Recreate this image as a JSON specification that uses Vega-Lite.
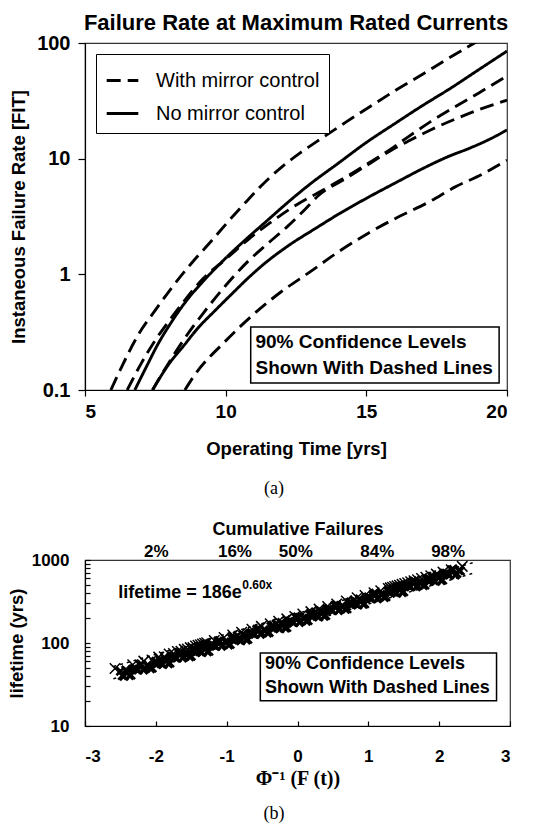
{
"$schema": "https://vega.github.io/schema/vega-lite/v6.json",
"background": "white",
"padding": {"left": 6, "top": 11, "right": 5, "bottom": 0},
"spacing": 10,
"config": {
  "font": "Liberation Sans",
  "view": {"stroke": "#333", "strokeWidth": 1.2},
  "axis": {"grid": false, "labelFont": "Liberation Sans", "titleFont": "Liberation Sans", "labelFontWeight": "bold", "titleFontWeight": "bold", "labelColor": "black", "titleColor": "black", "domainColor": "black", "tickColor": "black", "tickWidth": 1.2, "domainWidth": 1.2}
},
"datasets": {
  "curves": [
    {"curve":"D1","s":"With mirror control","t":5.92,"fit":0.1},
    {"curve":"D1","s":"With mirror control","t":6.3,"fit":0.158},
    {"curve":"D1","s":"With mirror control","t":6.9,"fit":0.302},
    {"curve":"D1","s":"With mirror control","t":7.5,"fit":0.49},
    {"curve":"D1","s":"With mirror control","t":8.1,"fit":0.776},
    {"curve":"D1","s":"With mirror control","t":8.8,"fit":1.26},
    {"curve":"D1","s":"With mirror control","t":9.5,"fit":1.95},
    {"curve":"D1","s":"With mirror control","t":10.1,"fit":2.88},
    {"curve":"D1","s":"With mirror control","t":10.7,"fit":4.17},
    {"curve":"D1","s":"With mirror control","t":11.2,"fit":5.62},
    {"curve":"D1","s":"With mirror control","t":12.0,"fit":8.5},
    {"curve":"D1","s":"With mirror control","t":12.6,"fit":11.0},
    {"curve":"D1","s":"With mirror control","t":13.5,"fit":15.5},
    {"curve":"D1","s":"With mirror control","t":14.3,"fit":20.9},
    {"curve":"D1","s":"With mirror control","t":15.3,"fit":30.0},
    {"curve":"D1","s":"With mirror control","t":16.1,"fit":39.8},
    {"curve":"D1","s":"With mirror control","t":17.0,"fit":53.7},
    {"curve":"D1","s":"With mirror control","t":17.8,"fit":70.8},
    {"curve":"D1","s":"With mirror control","t":18.6,"fit":92.3},
    {"curve":"D1","s":"With mirror control","t":19.3,"fit":116},
    {"curve":"S1","s":"No mirror control","t":6.77,"fit":0.1},
    {"curve":"S1","s":"No mirror control","t":7.2,"fit":0.162},
    {"curve":"S1","s":"No mirror control","t":7.6,"fit":0.251},
    {"curve":"S1","s":"No mirror control","t":8.0,"fit":0.363},
    {"curve":"S1","s":"No mirror control","t":8.6,"fit":0.589},
    {"curve":"S1","s":"No mirror control","t":9.2,"fit":0.871},
    {"curve":"S1","s":"No mirror control","t":10.0,"fit":1.38},
    {"curve":"S1","s":"No mirror control","t":10.8,"fit":2.09},
    {"curve":"S1","s":"No mirror control","t":11.5,"fit":2.95},
    {"curve":"S1","s":"No mirror control","t":12.2,"fit":4.17},
    {"curve":"S1","s":"No mirror control","t":13.0,"fit":6.03},
    {"curve":"S1","s":"No mirror control","t":14.0,"fit":9.12},
    {"curve":"S1","s":"No mirror control","t":15.0,"fit":13.8},
    {"curve":"S1","s":"No mirror control","t":16.0,"fit":20.0},
    {"curve":"S1","s":"No mirror control","t":17.0,"fit":28.8},
    {"curve":"S1","s":"No mirror control","t":18.0,"fit":40.7},
    {"curve":"S1","s":"No mirror control","t":19.0,"fit":58.9},
    {"curve":"S1","s":"No mirror control","t":20.0,"fit":85.1},
    {"curve":"D2","s":"With mirror control","t":6.5,"fit":0.1},
    {"curve":"D2","s":"With mirror control","t":7.0,"fit":0.17},
    {"curve":"D2","s":"With mirror control","t":7.5,"fit":0.27},
    {"curve":"D2","s":"With mirror control","t":8.0,"fit":0.4},
    {"curve":"D2","s":"With mirror control","t":8.6,"fit":0.62},
    {"curve":"D2","s":"With mirror control","t":9.2,"fit":0.92},
    {"curve":"D2","s":"With mirror control","t":10.0,"fit":1.35},
    {"curve":"D2","s":"With mirror control","t":10.8,"fit":2.0},
    {"curve":"D2","s":"With mirror control","t":11.5,"fit":2.7},
    {"curve":"D2","s":"With mirror control","t":12.0,"fit":3.3},
    {"curve":"D2","s":"With mirror control","t":12.6,"fit":4.1},
    {"curve":"D2","s":"With mirror control","t":13.3,"fit":5.1},
    {"curve":"D2","s":"With mirror control","t":14.3,"fit":7.0},
    {"curve":"D2","s":"With mirror control","t":15.0,"fit":8.9},
    {"curve":"D2","s":"With mirror control","t":15.8,"fit":11.8},
    {"curve":"D2","s":"With mirror control","t":16.5,"fit":15.5},
    {"curve":"D2","s":"With mirror control","t":17.3,"fit":21.0},
    {"curve":"D2","s":"With mirror control","t":18.2,"fit":28.5},
    {"curve":"D2","s":"With mirror control","t":19.0,"fit":37},
    {"curve":"D2","s":"With mirror control","t":20.0,"fit":52},
    {"curve":"D3","s":"With mirror control","t":7.4,"fit":0.1},
    {"curve":"D3","s":"With mirror control","t":7.9,"fit":0.16},
    {"curve":"D3","s":"With mirror control","t":8.5,"fit":0.27},
    {"curve":"D3","s":"With mirror control","t":9.2,"fit":0.46},
    {"curve":"D3","s":"With mirror control","t":10.0,"fit":0.8},
    {"curve":"D3","s":"With mirror control","t":10.8,"fit":1.3},
    {"curve":"D3","s":"With mirror control","t":11.5,"fit":1.85},
    {"curve":"D3","s":"With mirror control","t":12.2,"fit":2.6},
    {"curve":"D3","s":"With mirror control","t":12.8,"fit":3.6},
    {"curve":"D3","s":"With mirror control","t":13.3,"fit":4.8},
    {"curve":"D3","s":"With mirror control","t":14.3,"fit":6.8},
    {"curve":"D3","s":"With mirror control","t":15.0,"fit":8.7},
    {"curve":"D3","s":"With mirror control","t":15.8,"fit":11.5},
    {"curve":"D3","s":"With mirror control","t":16.5,"fit":14.2},
    {"curve":"D3","s":"With mirror control","t":17.3,"fit":17.8},
    {"curve":"D3","s":"With mirror control","t":18.2,"fit":22.2},
    {"curve":"D3","s":"With mirror control","t":19.0,"fit":26.5},
    {"curve":"D3","s":"With mirror control","t":20.0,"fit":32},
    {"curve":"S2","s":"No mirror control","t":7.4,"fit":0.1},
    {"curve":"S2","s":"No mirror control","t":8.0,"fit":0.17},
    {"curve":"S2","s":"No mirror control","t":8.5,"fit":0.24},
    {"curve":"S2","s":"No mirror control","t":9.0,"fit":0.34},
    {"curve":"S2","s":"No mirror control","t":9.6,"fit":0.48},
    {"curve":"S2","s":"No mirror control","t":10.2,"fit":0.67},
    {"curve":"S2","s":"No mirror control","t":10.8,"fit":0.93},
    {"curve":"S2","s":"No mirror control","t":11.4,"fit":1.25},
    {"curve":"S2","s":"No mirror control","t":12.2,"fit":1.75},
    {"curve":"S2","s":"No mirror control","t":13.2,"fit":2.5},
    {"curve":"S2","s":"No mirror control","t":14.0,"fit":3.3},
    {"curve":"S2","s":"No mirror control","t":14.9,"fit":4.4},
    {"curve":"S2","s":"No mirror control","t":16.1,"fit":6.3},
    {"curve":"S2","s":"No mirror control","t":17.0,"fit":8.2},
    {"curve":"S2","s":"No mirror control","t":17.9,"fit":10.4},
    {"curve":"S2","s":"No mirror control","t":18.7,"fit":12.4},
    {"curve":"S2","s":"No mirror control","t":19.4,"fit":14.8},
    {"curve":"S2","s":"No mirror control","t":20.0,"fit":17.7},
    {"curve":"D4","s":"With mirror control","t":8.55,"fit":0.1},
    {"curve":"D4","s":"With mirror control","t":8.9,"fit":0.135},
    {"curve":"D4","s":"With mirror control","t":9.96,"fit":0.26},
    {"curve":"D4","s":"With mirror control","t":11.03,"fit":0.46},
    {"curve":"D4","s":"With mirror control","t":11.95,"fit":0.7},
    {"curve":"D4","s":"With mirror control","t":13.0,"fit":1.05},
    {"curve":"D4","s":"With mirror control","t":14.0,"fit":1.56},
    {"curve":"D4","s":"With mirror control","t":15.07,"fit":2.27},
    {"curve":"D4","s":"With mirror control","t":16.2,"fit":3.19},
    {"curve":"D4","s":"With mirror control","t":17.16,"fit":4.14},
    {"curve":"D4","s":"With mirror control","t":18.16,"fit":5.7},
    {"curve":"D4","s":"With mirror control","t":19.1,"fit":7.3},
    {"curve":"D4","s":"With mirror control","t":20.0,"fit":9.7}
  ],
  "pts": [
    {"z":-2.576,"life":49.3},{"z":-2.326,"life":54.6},{"z":-2.17,"life":60.5},{"z":-2.054,"life":62.5},{"z":-1.96,"life":67.6},{"z":-1.881,"life":68.4},{"z":-1.812,"life":73.8},{"z":-1.751,"life":74.6},{"z":-1.695,"life":79.1},{"z":-1.645,"life":79.6},{"z":-1.598,"life":83.8},{"z":-1.555,"life":84.7},{"z":-1.514,"life":87.9},{"z":-1.476,"life":87.9},{"z":-1.44,"life":91.8},{"z":-1.405,"life":93.8},{"z":-1.372,"life":95.5},{"z":-1.341,"life":97.3},{"z":-1.311,"life":99.1},{"z":-1.282,"life":100.7},{"z":-1.175,"life":107.2},{"z":-1.036,"life":116.4},{"z":-0.915,"life":125.0},{"z":-0.789,"life":134.6},{"z":-0.643,"life":146.6},{"z":-0.51,"life":158.5},{"z":-0.385,"life":170.6},{"z":-0.266,"life":182.8},{"z":-0.151,"life":195.4},{"z":-0.038,"life":208.9},{"z":0.075,"life":223.4},{"z":0.189,"life":238.8},{"z":0.305,"life":255.9},{"z":0.426,"life":274.8},{"z":0.553,"life":295.8},{"z":0.69,"life":320.6},{"z":0.842,"life":350.8},{"z":0.954,"life":374.1},{"z":1.08,"life":402.7},{"z":1.175,"life":426.6},{"z":1.282,"life":453.9},{"z":1.311,"life":461.3},{"z":1.341,"life":469.9},{"z":1.372,"life":478.6},{"z":1.405,"life":487.5},{"z":1.44,"life":497.7},{"z":1.476,"life":508.2},{"z":1.514,"life":520.0},{"z":1.555,"life":533.3},{"z":1.598,"life":545.8},{"z":1.645,"life":561.0},{"z":1.695,"life":578.1},{"z":1.751,"life":598.4},{"z":1.812,"life":619.4},{"z":1.881,"life":645.7},{"z":1.96,"life":676.1},{"z":2.054,"life":714.5},{"z":2.17,"life":763.8},{"z":2.326,"life":837.5}
  ],
  "band": [
    {"z":-2.5,"life":45.7},{"z":-2.45,"life":39.6},{"z":-2.4,"life":45.3},{"z":-2.35,"life":41.1},{"z":-2.3,"life":49.8},{"z":-2.25,"life":47.3},{"z":-2.2,"life":55.3},{"z":-2.15,"life":49.1},{"z":-2.1,"life":53.0},{"z":-2.05,"life":49.8},{"z":-2.0,"life":60.3},{"z":-1.95,"life":63.5},{"z":-1.9,"life":55.1},{"z":-1.85,"life":63.0},{"z":-1.8,"life":57.1},{"z":-1.75,"life":69.2},{"z":-1.7,"life":65.8},{"z":-1.65,"life":76.9},{"z":-1.6,"life":68.2},{"z":-1.55,"life":73.6},{"z":-1.5,"life":69.2},{"z":-1.45,"life":83.8},{"z":-1.4,"life":88.3},{"z":-1.35,"life":76.6},{"z":-1.3,"life":87.5},{"z":-1.25,"life":79.4},{"z":-1.2,"life":96.2},{"z":-1.15,"life":91.4},{"z":-1.1,"life":106.9},{"z":-1.05,"life":94.8},{"z":-1.0,"life":102.3},{"z":-0.95,"life":96.2},{"z":-0.9,"life":116.4},{"z":-0.85,"life":122.7},{"z":-0.8,"life":106.4},{"z":-0.75,"life":121.6},{"z":-0.7,"life":110.4},{"z":-0.65,"life":133.7},{"z":-0.6,"life":127.1},{"z":-0.55,"life":148.6},{"z":-0.5,"life":131.8},{"z":-0.45,"life":142.2},{"z":-0.4,"life":133.7},{"z":-0.35,"life":161.8},{"z":-0.3,"life":170.6},{"z":-0.25,"life":147.9},{"z":-0.2,"life":169.0},{"z":-0.15,"life":153.5},{"z":-0.1,"life":185.8},{"z":-0.05,"life":176.6},{"z":0.0,"life":206.5},{"z":0.05,"life":183.2},{"z":0.1,"life":197.7},{"z":0.15,"life":185.8},{"z":0.2,"life":224.9},{"z":0.25,"life":237.1},{"z":0.3,"life":205.6},{"z":0.35,"life":235.0},{"z":0.4,"life":213.3},{"z":0.45,"life":258.2},{"z":0.5,"life":245.5},{"z":0.55,"life":287.1},{"z":0.6,"life":254.7},{"z":0.65,"life":274.8},{"z":0.7,"life":258.2},{"z":0.75,"life":312.6},{"z":0.8,"life":329.6},{"z":0.85,"life":285.8},{"z":0.9,"life":326.6},{"z":0.95,"life":296.5},{"z":1.0,"life":358.9},{"z":1.05,"life":341.2},{"z":1.1,"life":399.0},{"z":1.15,"life":354.0},{"z":1.2,"life":382.0},{"z":1.25,"life":358.9},{"z":1.3,"life":434.5},{"z":1.35,"life":458.1},{"z":1.4,"life":397.2},{"z":1.45,"life":453.9},{"z":1.5,"life":412.1},{"z":1.55,"life":498.9},{"z":1.6,"life":474.2},{"z":1.65,"life":554.6},{"z":1.7,"life":492.0},{"z":1.75,"life":530.9},{"z":1.8,"life":498.9},{"z":1.85,"life":603.9},{"z":1.9,"life":636.8},{"z":1.95,"life":552.1},{"z":2.0,"life":631.0},{"z":2.05,"life":572.8},{"z":2.1,"life":693.4},{"z":2.15,"life":659.2},{"z":2.2,"life":770.9},{"z":2.25,"life":683.9},{"z":2.3,"life":738.0},
    {"z":-2.475,"life":40.4},{"z":-2.425,"life":47.3},{"z":-2.375,"life":40.5},{"z":-2.325,"life":48.5},{"z":-2.275,"life":47.7},{"z":-2.225,"life":54.5},{"z":-2.175,"life":47.3},{"z":-2.125,"life":53.4},{"z":-2.075,"life":49.0},{"z":-2.025,"life":58.7},{"z":-1.975,"life":56.4},{"z":-1.925,"life":56.2},{"z":-1.875,"life":65.7},{"z":-1.825,"life":56.3},{"z":-1.775,"life":67.4},{"z":-1.725,"life":66.3},{"z":-1.675,"life":75.8},{"z":-1.625,"life":65.7},{"z":-1.575,"life":74.2},{"z":-1.525,"life":68.2},{"z":-1.475,"life":81.6},{"z":-1.425,"life":78.4},{"z":-1.375,"life":78.1},{"z":-1.325,"life":91.3},{"z":-1.275,"life":78.3},{"z":-1.225,"life":93.7},{"z":-1.175,"life":92.2},{"z":-1.125,"life":105.3},{"z":-1.075,"life":91.3},{"z":-1.025,"life":103.2},{"z":-0.975,"life":94.7},{"z":-0.925,"life":113.4},{"z":-0.875,"life":109.0},{"z":-0.825,"life":108.5},{"z":-0.775,"life":126.9},{"z":-0.725,"life":108.8},{"z":-0.675,"life":130.2},{"z":-0.625,"life":128.1},{"z":-0.575,"life":146.4},{"z":-0.525,"life":126.9},{"z":-0.475,"life":143.4},{"z":-0.425,"life":131.7},{"z":-0.375,"life":157.6},{"z":-0.325,"life":151.6},{"z":-0.275,"life":150.8},{"z":-0.225,"life":176.4},{"z":-0.175,"life":151.2},{"z":-0.125,"life":180.9},{"z":-0.075,"life":178.1},{"z":-0.025,"life":203.5},{"z":0.025,"life":176.4},{"z":0.075,"life":199.3},{"z":0.125,"life":183.0},{"z":0.175,"life":219.0},{"z":0.225,"life":210.6},{"z":0.275,"life":209.6},{"z":0.325,"life":245.2},{"z":0.375,"life":210.1},{"z":0.425,"life":251.5},{"z":0.475,"life":247.5},{"z":0.525,"life":282.8},{"z":0.575,"life":245.2},{"z":0.625,"life":277.0},{"z":0.675,"life":254.4},{"z":0.725,"life":304.5},{"z":0.775,"life":292.8},{"z":0.825,"life":291.5},{"z":0.875,"life":340.8},{"z":0.925,"life":292.2},{"z":0.975,"life":349.5},{"z":1.025,"life":343.9},{"z":1.075,"life":393.0},{"z":1.125,"life":340.8},{"z":1.175,"life":385.0},{"z":1.225,"life":353.6},{"z":1.275,"life":423.2},{"z":1.325,"life":407.0},{"z":1.375,"life":405.1},{"z":1.425,"life":473.8},{"z":1.475,"life":406.0},{"z":1.525,"life":486.0},{"z":1.575,"life":478.1},{"z":1.625,"life":546.5},{"z":1.675,"life":473.8},{"z":1.725,"life":535.3},{"z":1.775,"life":491.6},{"z":1.825,"life":588.3},{"z":1.875,"life":565.5},{"z":1.925,"life":562.9},{"z":1.975,"life":658.3},{"z":2.025,"life":564.2},{"z":2.075,"life":675.2},{"z":2.125,"life":664.4},{"z":2.175,"life":759.5},{"z":2.225,"life":658.3},{"z":2.275,"life":743.9}
  ]
},
"vconcat": [
  {
    "width": 422, "height": 347,
    "title": {"text": "Failure Rate at Maximum Rated Currents", "fontSize": 22, "fontWeight": "bold", "font": "Liberation Sans", "color": "black", "offset": -2, "anchor": "middle"},
    "encoding": {
      "x": {"field": "t", "type": "quantitative", "title": "Operating Time [yrs]", "scale": {"domain": [5, 20], "nice": false, "zero": false},
            "axis": {"values": [5, 10, 15, 20], "labelFontSize": 19, "titleFontSize": 18.5, "tickSize": 6, "labelPadding": 6, "titlePadding": 18}},
      "y": {"field": "fit", "type": "quantitative", "title": "Instaneous Failure Rate [FIT]", "scale": {"type": "log", "domain": [0.1, 100], "nice": false},
            "axis": {"values": [0.1, 1, 10, 100], "format": "~g", "labelFontSize": 20, "titleFontSize": 18.5, "tickSize": 7, "labelPadding": 8, "titlePadding": 8}}
    },
    "layer": [
      {
        "data": {"name": "curves"},
        "mark": {"type": "line", "color": "black", "strokeWidth": 2.9, "clip": true, "interpolate": "monotone"},
        "encoding": {
          "detail": {"field": "curve"},
          "strokeDash": {"field": "s", "type": "nominal",
            "scale": {"domain": ["With mirror control", "No mirror control"], "range": [[14, 7], [1, 0]]},
            "legend": {"title": null, "orient": "top-left", "offset": 11, "strokeColor": "black", "fillColor": "white", "padding": 9, "labelFontSize": 20, "labelFont": "Liberation Sans", "labelFontWeight": "normal", "labelColor": "black", "labelLimit": 400, "symbolType": "stroke", "symbolSize": 1000, "symbolStrokeWidth": 3, "symbolStrokeColor": "black", "rowPadding": 5, "labelOffset": 16}}
        }
      },
      {
        "data": {"values": [{"t": 10.89, "t2": 19.72, "fit": 0.351, "fit2": 0.115}]},
        "mark": {"type": "rect", "fill": "white", "stroke": "black", "strokeWidth": 1.5},
        "encoding": {"x2": {"field": "t2"}, "y2": {"field": "fit2"}}
      },
      {
        "data": {"values": [{"t": 11.06, "fit": 0.26, "label": "90% Confidence Levels"}, {"t": 11.06, "fit": 0.155, "label": "Shown With Dashed Lines"}]},
        "mark": {"type": "text", "align": "left", "baseline": "middle", "font": "Liberation Sans", "fontWeight": "bold", "fontSize": 19, "color": "black"},
        "encoding": {"text": {"field": "label"}}
      }
    ]
  },
  {
    "width": 378, "height": 40,
    "view": {"stroke": null},
    "data": {"values": [{"c": "(a)"}]},
    "mark": {"type": "text", "font": "Liberation Serif", "fontSize": 18, "color": "black", "baseline": "middle"},
    "encoding": {"text": {"field": "c"}}
  },
  {
    "width": 425, "height": 166,
    "encoding": {
      "x": {"field": "z", "type": "quantitative", "title": "Φ⁻¹ (F (t))", "scale": {"domain": [-3, 3], "nice": false, "zero": false}, "axis": null},
      "y": {"field": "life", "type": "quantitative", "title": "lifetime (yrs)", "scale": {"type": "log", "domain": [10, 1000], "nice": false},
            "axis": {"values": [10, 20, 30, 40, 50, 60, 70, 80, 90, 100, 200, 300, 400, 500, 600, 700, 800, 900, 1000],
                     "labelExpr": "(datum.value == 10 || datum.value == 100 || datum.value == 1000) ? format(datum.value, 'd') : ''",
                     "labelFontSize": 17, "titleFontSize": 18.5, "tickSize": -5, "labelPadding": 21, "titlePadding": 5}}
    },
    "resolve": {"axis": {"x": "independent"}},
    "layer": [
      {
        "data": {"values": [{"z": -2.6, "life": 52, "b": "up"}, {"z": 2.5, "life": 940, "b": "up"}, {"z": -2.6, "life": 37, "b": "lo"}, {"z": 2.5, "life": 700, "b": "lo"}]},
        "mark": {"type": "line", "color": "black", "strokeWidth": 1.5, "strokeDash": [3, 4]},
        "encoding": {"detail": {"field": "b"}}
      },
      {
        "data": {"name": "band"},
        "mark": {"type": "point", "shape": "M-1,-1L1,1M1,-1L-1,1", "filled": false, "color": "black", "strokeWidth": 2.6, "size": 64, "opacity": 1},
        "encoding": {
          "x": {"field": "z", "type": "quantitative", "title": "Φ⁻¹ (F (t))",
                "axis": {"orient": "bottom", "values": [-3, -2, -1, 0, 1, 2, 3], "labelExpr": "datum.value < 0 ? '-' + abs(datum.value) : '' + datum.value", "titleFont": "Liberation Serif", "titleFontSize": 20, "labelFontSize": 17, "tickSize": -5, "labelPadding": 27, "titlePadding": 4}}
        }
      },
      {
        "data": {"name": "pts"},
        "mark": {"type": "point", "shape": "M-1,-1L1,1M1,-1L-1,1", "filled": false, "color": "black", "strokeWidth": 1.5, "size": 110, "opacity": 1},
        "encoding": {
          "x": {"field": "z", "type": "quantitative", "title": "Cumulative Failures",
                "axis": {"orient": "top", "values": [-2.0, -0.89, -0.03, 1.12, 2.12], "labelExpr": "datum.value < -1.5 ? '2%' : datum.value < -0.5 ? '16%' : datum.value < 0.5 ? '50%' : datum.value < 1.5 ? '84%' : '98%'", "domain": false, "ticks": false, "labelPadding": 0, "labelFontSize": 17, "titleFontSize": 18, "titlePadding": 4}}
        }
      },
      {
        "data": {"values": [{"z": -0.525, "z2": 2.81, "life": 76, "life2": 20.2}]},
        "mark": {"type": "rect", "fill": "white", "stroke": "black", "strokeWidth": 1.5},
        "encoding": {"x2": {"field": "z2"}, "y2": {"field": "life2"}}
      },
      {
        "data": {"values": [{"z": -0.46, "life": 56.6, "label": "90% Confidence Levels"}, {"z": -0.46, "life": 28.8, "label": "Shown With Dashed Lines"}]},
        "mark": {"type": "text", "align": "left", "baseline": "middle", "font": "Liberation Sans", "fontWeight": "bold", "fontSize": 18, "color": "black"},
        "encoding": {"text": {"field": "label"}}
      },
      {
        "data": {"values": [{"z": -2.53, "life": 398, "label": "lifetime = 186e"}]},
        "mark": {"type": "text", "align": "left", "baseline": "middle", "font": "Liberation Sans", "fontWeight": "bold", "fontSize": 18, "color": "black"},
        "encoding": {"text": {"field": "label"}}
      },
      {
        "data": {"values": [{"z": -0.78, "life": 505, "label": "0.60x"}]},
        "mark": {"type": "text", "align": "left", "baseline": "middle", "font": "Liberation Sans", "fontWeight": "bold", "fontSize": 12, "color": "black"},
        "encoding": {"text": {"field": "label"}}
      }
    ]
  },
  {
    "width": 378, "height": 30,
    "view": {"stroke": null},
    "data": {"values": [{"c": "(b)"}]},
    "mark": {"type": "text", "font": "Liberation Serif", "fontSize": 18, "color": "black", "baseline": "middle"},
    "encoding": {"text": {"field": "c"}}
  }
]
}
